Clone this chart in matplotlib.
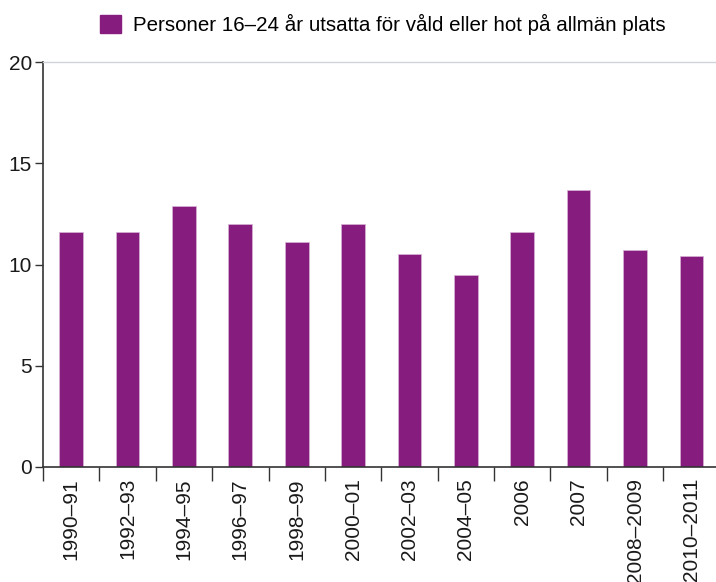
import matplotlib
matplotlib.use("Agg")
import matplotlib.pyplot as plt
from matplotlib.patches import Patch

categories = ["1990–91", "1992–93", "1994–95", "1996–97", "1998–99", "2000–01",
              "2002–03", "2004–05", "2006", "2007", "2008–2009", "2010–2011"]
values = [11.6, 11.6, 12.9, 12.0, 11.1, 12.0, 10.5, 9.5, 11.6, 13.7, 10.7, 10.4]
series_label = "Personer 16–24 år utsatta för våld eller hot på allmän plats"
yticks = [0, 5, 10, 15, 20]

plt.rcParams['font.family'] = ['Liberation Sans', 'DejaVu Sans']
color = "#851c7e"
fs = 15

fig = plt.figure(figsize=(7.16, 5.82), dpi=100)
ax = fig.add_axes([43/716, 1-467/582, 1-43/716+0.005, (467-62)/582])

x = list(range(len(categories)))
ax.bar(x, values, width=0.42, color=color, edgecolor="#d9b3d6", linewidth=0.5)

ax.set_ylim(0, 20)
ax.set_xlim(-0.5, 11.5)
ax.set_yticks(yticks)
ax.set_yticklabels([str(t) for t in yticks], fontsize=fs, color="#1a1a1a")

ax.set_xticks([i + 0.5 for i in range(-1, len(categories))], minor=False)
ax.set_xticklabels([])
ax.set_xticks(x, minor=True)
ax.set_xticklabels(categories, minor=True, rotation=90, fontsize=fs, color="#1a1a1a")
ax.tick_params(axis='x', which='major', length=10, width=1, color="#333333", direction='out')
ax.tick_params(axis='x', which='minor', length=0, pad=8)
ax.tick_params(axis='y', length=6, width=1, color="#333333", pad=2)

for s in ["left", "bottom"]:
    ax.spines[s].set_color("#333333")
    ax.spines[s].set_linewidth(1.2)
ax.spines["right"].set_visible(False)
ax.spines["top"].set_color("#d0d4d8")
ax.spines["top"].set_linewidth(1.0)

handle = Patch(facecolor=color, edgecolor=color)
fig.legend([handle], [series_label], loc="upper left",
           bbox_to_anchor=(92/716, 1-6/582), borderaxespad=0, frameon=False,
           fontsize=14.8, handlelength=1.0, handleheight=1.0, handletextpad=0.6)

fig.savefig("out.png", dpi=100)
